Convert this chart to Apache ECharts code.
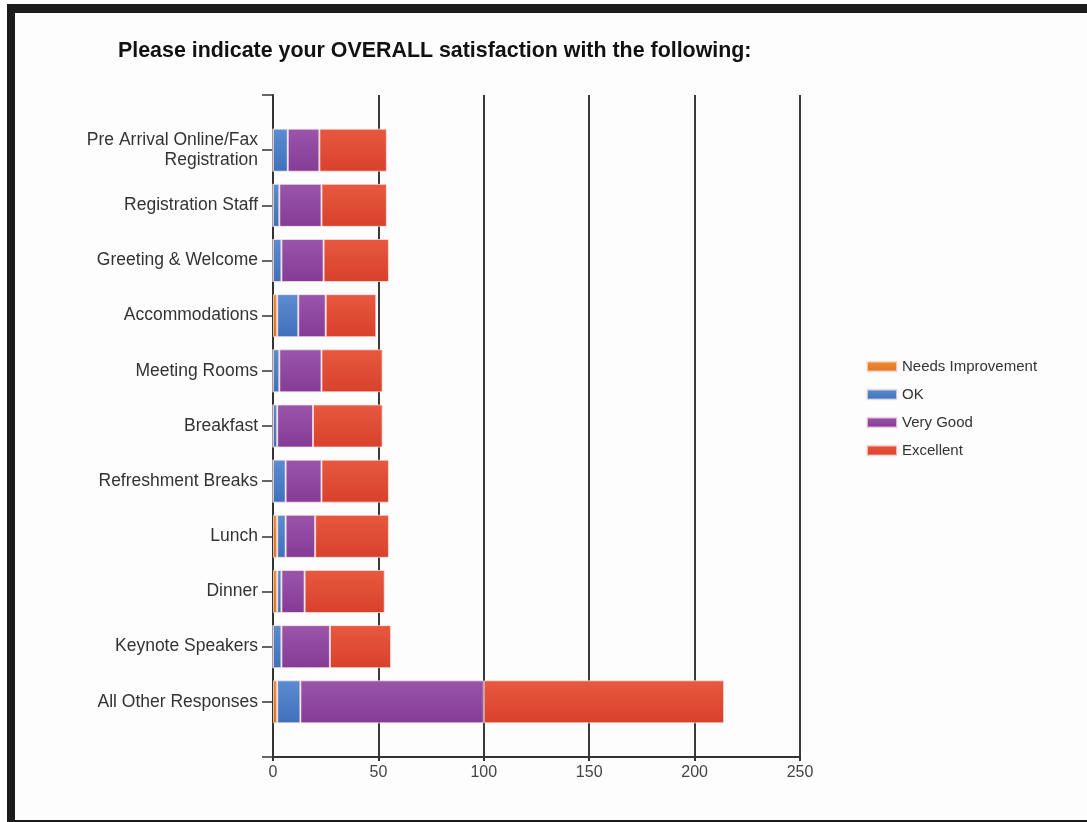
<!DOCTYPE html>
<html>
<head>
<meta charset="utf-8">
<title>Overall satisfaction</title>
<script src="https://cdn.jsdelivr.net/npm/echarts@6/dist/echarts.min.js"></script>
<style>
  html, body { margin: 0; padding: 0; background: #ffffff; overflow: hidden; }
  #frame {
    position: absolute; left: 7px; top: 4px;
    width: 1200px; height: 807px;
    border-style: solid; border-color: #1b1b1b;
    border-width: 9px 8px 8px 8px;
    background: #fdfdfd;
  }
  #chart { position: absolute; left: 0; top: 0; width: 1087px; height: 822px; }
</style>
</head>
<body>
<div id="frame"></div>
<div id="chart"></div>
<script>
// categories, top to bottom
const categories = [
  "Pre Arrival Online/Fax\nRegistration",
  "Registration Staff",
  "Greeting & Welcome",
  "Accommodations",
  "Meeting Rooms",
  "Breakfast",
  "Refreshment Breaks",
  "Lunch",
  "Dinner",
  "Keynote Speakers",
  "All Other Responses"
];
const seriesNames = ["Needs Improvement", "OK", "Very Good", "Excellent"];
const needsImprovement = [0, 0, 0, 2, 0, 0, 0, 2, 2, 0, 2];
const ok = [7, 3, 4, 10, 3, 2, 6, 4, 2, 4, 11];
const veryGood = [15, 20, 20, 13, 20, 17, 17, 14, 11, 23, 87];
const excellent = [32, 31, 31, 24, 29, 33, 32, 35, 38, 29, 114];
const xMin = 0, xMax = 250, xStep = 50;

// gradient pairs (top, bottom) per series
const colors = [
  ["#f08d34", "#df7420"],
  ["#5b8dd2", "#3f70bb"],
  ["#9a55aa", "#853b96"],
  ["#e8583f", "#d8412c"]
];

// blank slot above and below so the axis runs past the first/last bar
const yData = [""].concat(categories, [""]);
const pad = arr => [null].concat(arr, [null]);

const chart = echarts.init(document.getElementById("chart"));

const grad = c => ({
  type: "linear", x: 0, y: 0, x2: 0, y2: 1,
  colorStops: [{ offset: 0, color: c[0] }, { offset: 1, color: c[1] }]
});

const values = [needsImprovement, ok, veryGood, excellent];
const series = values.map((v, i) => ({
  name: seriesNames[i],
  type: "bar",
  stack: "total",
  barWidth: 43,
  data: pad(v),
  itemStyle: {
    color: grad(colors[i]),
    borderColor: "rgba(255,230,230,0.7)",
    borderWidth: 1
  }
}));

const option = {
  backgroundColor: "transparent",
  animation: false,
  title: {
    text: "Please indicate your OVERALL satisfaction with the following:",
    left: 118,
    top: 41,
    padding: 0,
    textStyle: {
      fontFamily: "Liberation Sans",
      fontSize: 21.4,
      fontWeight: "bold",
      color: "#111"
    }
  },
  legend: {
    orient: "vertical",
    left: 866,
    top: 359,
    padding: 0,
    itemWidth: 30,
    itemHeight: 10,
    itemGap: 13,
    icon: "rect",
    data: seriesNames,
    textStyle: { fontFamily: "Liberation Sans", fontSize: 15, color: "#333" }
  },
  grid: { left: 273, right: 287, top: 95, bottom: 65 },
  xAxis: {
    type: "value",
    min: xMin,
    max: xMax,
    interval: xStep,
    axisLine: { show: true, lineStyle: { color: "#333", width: 2 } },
    axisTick: { show: true, length: 4, lineStyle: { color: "#333", width: 2 } },
    axisLabel: { fontFamily: "Liberation Sans", fontSize: 16, color: "#444", margin: 8 },
    splitLine: { show: true, lineStyle: { color: "#3a3a3a", width: 2 } }
  },
  yAxis: {
    type: "category",
    inverse: true,
    boundaryGap: false,
    data: yData,
    axisLine: { show: true, lineStyle: { color: "#333", width: 2 } },
    axisTick: { show: true, length: 11, interval: 0, lineStyle: { color: "#333", width: 1.5 } },
    axisLabel: {
      interval: 0,
      margin: 15,
      fontFamily: "Liberation Sans",
      fontSize: 17.5,
      lineHeight: 20,
      color: "#333"
    },
    splitLine: { show: false }
  },
  series: series
};

chart.setOption(option);
</script>
</body>
</html>
